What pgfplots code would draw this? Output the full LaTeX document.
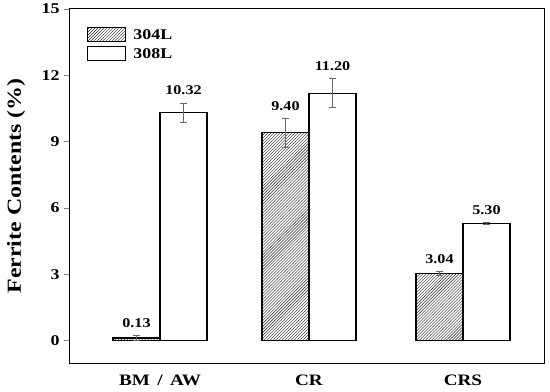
\documentclass[border=0pt]{standalone}
\usepackage{fontspec}
\setmainfont{Liberation Serif}[FakeStretch=1.2]
\usepackage{pgfplots}
\pgfplotsset{compat=1.18}
\usepackage{pgfplotstable}
\usetikzlibrary{patterns}

% x positions: group centres 160, 309, 463; bars 47 wide
\pgfplotstableread{
x      y     err
136.5  0.13  0.10
285.5  9.40  0.65
439.5  3.04  0.08
}\tabA
\pgfplotstableread{
x      y     err
183.5  10.32 0.43
332.5  11.20 0.65
486.5  5.30  0.04
}\tabB
\pgfplotstableread{
x      ly     lab
136.5  0.23   0.13
285.5  10.05  9.40
439.5  3.12   3.04
}\labA
\pgfplotstableread{
x      ly     lab
183.5  10.75  10.32
332.5  11.85  11.20
486.5  5.34   5.30
}\labB

\begin{document}
\begin{tikzpicture}
\begin{axis}[
  scale only axis,
  width=474bp, height=354bp,
  xmin=70, xmax=544,
  ymin=-1, ymax=15,
  ytick={0,3,6,9,12,15},
  xtick={160,309,463},
  xticklabels={BM\,~/\,~AW, CR, CRS},
  ytick pos=left, xtick pos=bottom,
  tick align=outside,
  major tick length=6bp,
  major tick style={line width=0.9bp},
  major x tick style={draw=none},
  /pgf/number format/assume math mode=true,
  yticklabel style={font=\bfseries\fontsize{15}{15}\selectfont, xshift=-1bp},
  xticklabel style={font=\bfseries\fontsize{16}{16}\selectfont, yshift=-2bp},
  ylabel={Ferrite Contents (\%)},
  ylabel style={font=\bfseries\fontsize{20}{20}\selectfont, at={(axis description cs:-0.114,0.5)}, anchor=center},
  axis line style={line width=1bp},
  legend style={at={(rel axis cs:0.036,0.949)}, anchor=north west, draw=none, fill=none,
    font=\bfseries\fontsize{15}{15}\selectfont, row sep=4bp, column sep=6bp, inner sep=0pt,
    nodes={inner sep=1bp, anchor=west}},
  legend cell align=left,
  legend image code/.code={\draw[#1] (0bp,-7bp) rectangle (38bp,7bp);},
  error bars/error bar style={line width=0.8bp, draw=black!60},
  error bars/error mark options={rotate=90, mark size=3.5bp, line width=0.8bp, draw=black!60},
]
\addplot[ybar, bar width=47, bar shift=0, draw=black, line width=1.1bp,
  pattern=north east lines, pattern color=black!85,
  error bars/.cd, y dir=both, y explicit]
  table[x=x, y=y, y error=err]{\tabA};
\addlegendentry{304L}
\addplot[ybar, bar width=47, bar shift=0, draw=black, line width=1.1bp, fill=white,
  error bars/.cd, y dir=both, y explicit]
  table[x=x, y=y, y error=err]{\tabB};
\addlegendentry{308L}
\addplot[draw=none, mark=none, forget plot, point meta=explicit symbolic,
  nodes near coords, nodes near coords align=above,
  every node near coord/.append style={font=\bfseries\fontsize{13.5}{13.5}\selectfont, inner sep=0pt, yshift=8bp}]
  table[x=x, y=ly, meta=lab]{\labA};
\addplot[draw=none, mark=none, forget plot, point meta=explicit symbolic,
  nodes near coords, nodes near coords align=above,
  every node near coord/.append style={font=\bfseries\fontsize{13.5}{13.5}\selectfont, inner sep=0pt, yshift=8bp}]
  table[x=x, y=ly, meta=lab]{\labB};
\end{axis}
\path ([xshift=-70bp,yshift=-29bp]current axis.south west) rectangle ([xshift=6bp,yshift=9bp]current axis.north east);
\end{tikzpicture}
\end{document}
